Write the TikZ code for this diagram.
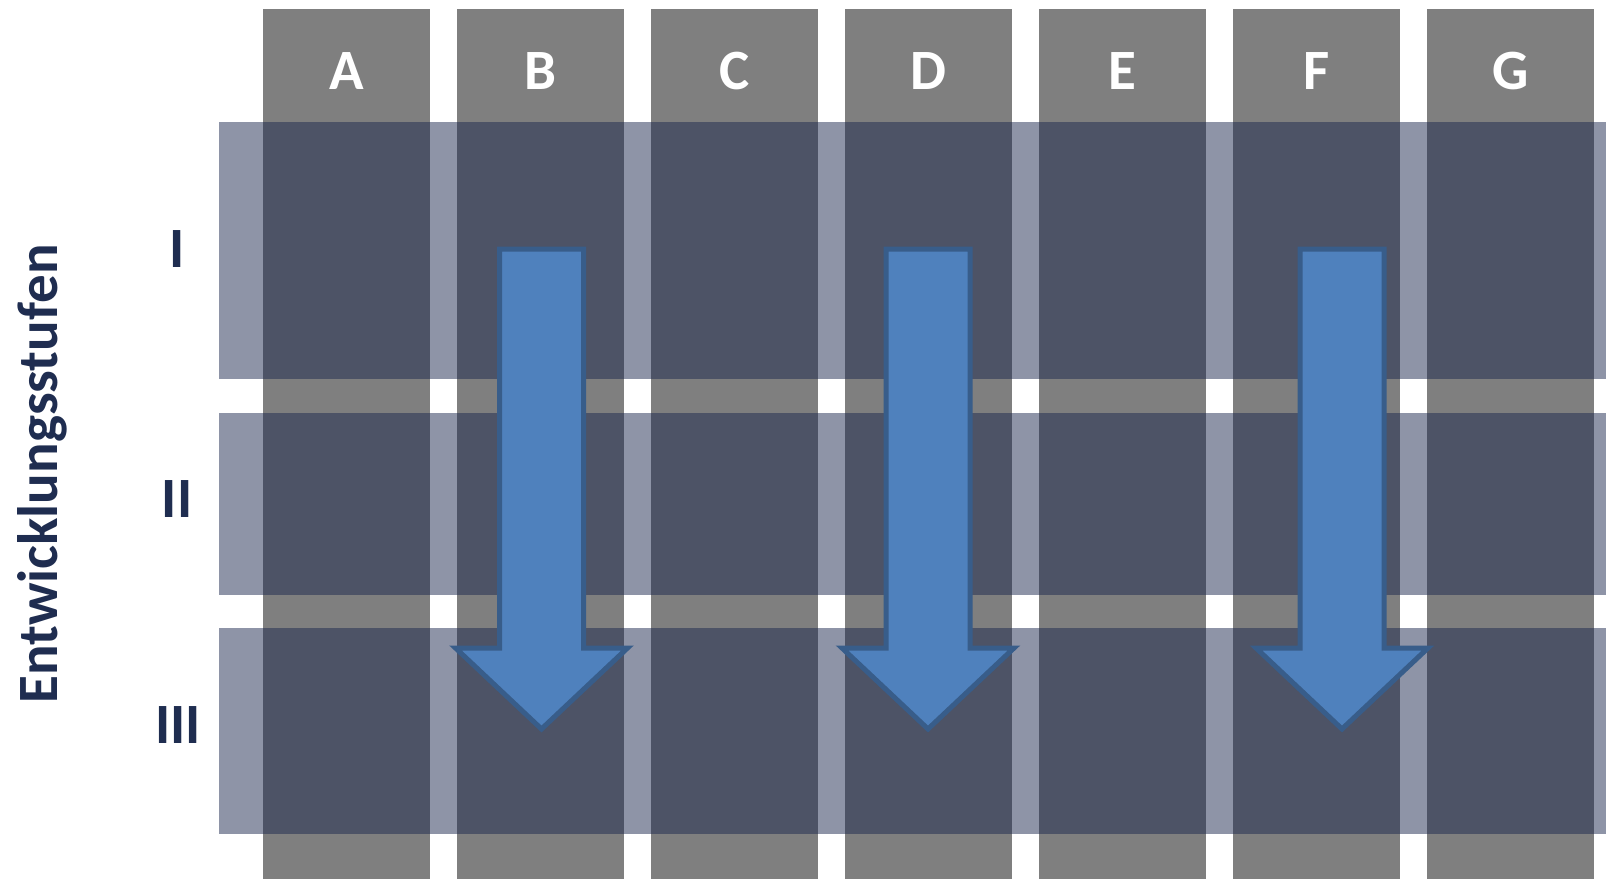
\documentclass[tikz,border=0pt]{standalone}
\usepackage{fontspec}
\setmainfont{Carlito}
\definecolor{colgray}{HTML}{7F7F7F}
\definecolor{rownavy}{HTML}{1D294F}
\definecolor{labnavy}{HTML}{1F2D50}
\definecolor{arrfill}{HTML}{4F81BD}
\definecolor{arrline}{HTML}{385D8A}
\begin{document}
\begin{tikzpicture}[x=1pt,y=-1pt,
  colbox/.style={fill=colgray},
  rowband/.style={fill=rownavy, fill opacity=0.5},
  collabel/.style={text=white, anchor=base, font=\fontsize{57}{60}\selectfont\bfseries, inner sep=0pt},
  rowlabel/.style={text=labnavy, anchor=base, font=\fontsize{57}{60}\selectfont\bfseries, inner sep=0pt},
  axislabel/.style={text=labnavy, anchor=base, rotate=90, font=\fontsize{57}{60}\selectfont\bfseries, inner sep=0pt},
  downarrow/.style={fill=arrfill, draw=arrline, line width=5pt, line join=miter}]
\useasboundingbox (0,0) rectangle (1606,879);
% columns
\foreach \x [count=\i] in {263,457,651,845,1039,1233,1427}{
  \fill[colbox] (\x,9) rectangle ++(167,870);
}
% row bands
\fill[rowband] (219,122) rectangle (1606,379);
\fill[rowband] (219,413) rectangle (1606,595);
\fill[rowband] (219,628) rectangle (1606,834);
% column labels
\node[collabel] (lA) at (346.5,89) {A};
\node[collabel] (lB) at (540.5,89) {B};
\node[collabel] (lC) at (734.5,89) {C};
\node[collabel] (lD) at (928.5,89) {D};
\node[collabel] (lE) at (1122.5,89) {E};
\node[collabel] (lF) at (1316.5,89) {F};
\node[collabel] (lG) at (1510.5,89) {G};
% row labels
\node[rowlabel] (r1) at (177,267) {I};
\node[rowlabel] (r2) at (177,517) {II};
\node[rowlabel] (r3) at (178,743) {III};
\node[axislabel] (ax) at (57,474) {Entwicklungsstufen};
% arrows
\foreach \c in {541.5,928,1342}{
  \draw[downarrow] (\c-42,249) -- (\c+42,249) -- (\c+42,648) -- (\c+86,648)
    -- (\c,729) -- (\c-86,648) -- (\c-42,648) -- cycle;
}
\end{tikzpicture}
\end{document}
